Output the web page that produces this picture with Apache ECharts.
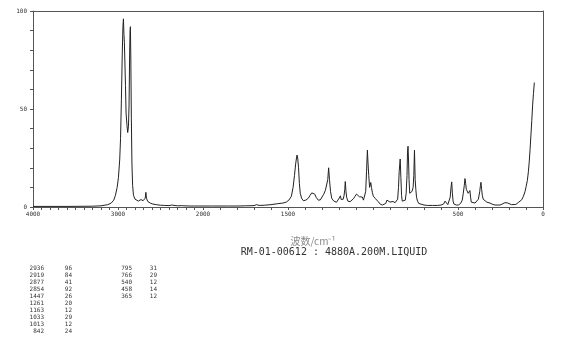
<!DOCTYPE html>
<html><head><meta charset="utf-8">
<script src="https://cdn.jsdelivr.net/npm/echarts@6/dist/echarts.min.js"></script>
<style>html,body{margin:0;padding:0;background:#fff}#c{width:570px;height:346px}</style>
</head><body><div id="c"></div>
<script>
// Spectrum: wavenumber (cm-1) and relative intensity
var wavenumbers = [4000,3600,3300,3200,3120,3080,3050,3030,3010,2995,2980,2970,2960,2950,2942,2936,2930,2925,2919,2912,2905,2895,2886,2877,2870,2863,2858,2854,2849,2843,2836,2828,2818,2800,2780,2760,2745,2730,2720,2705,2690,2680,2672,2665,2650,2620,2590,2550,2500,2450,2400,2370,2350,2300,2250,2240,2225,2150,2100,2050,2000,
1950,1900,1850,1800,1750,1700,1685,1670,1640,1600,1560,1530,1510,1495,1480,1470,1462,1455,1450,1447,1443,1438,1433,1428,1420,1410,1395,1380,1370,1360,1351,1342,1335,1322,1310,1300,1290,1280,1272,1266,1261,1256,1250,1243,1233,1215,1205,1198,1192,1187,1182,1175,1170,1166,1163,1159,1155,1148,1135,1125,1115,1106,1097,1092,1086,1080,1072,1063,1056,1050,1043,1038,1033,1029,1025,1020,1016,1013,1009,1004,998,992,985,980,975,968,958,945,935,925,918,914,908,900,890,882,876,870,862,855,850,846,840,836,832,828,818,810,805,800,797,794,791,788,784,779,776,770,764,760,756,752,748,744,738,731,720,700,680,650,620,600,585,576,572,567,560,552,546,541,537,533,529,524,510,498,485,475,469,463,459,455,451,447,444,440,435,430,426,422,414,400,390,380,372,368,365,361,357,352,347,331,312,295,282,265,253,240,224,210,200,185,175,160,145,135,125,115,106,99,92,86,81,76,71,66,61,56,51];
var intensities = [0.3,0.3,0.4,0.6,1.2,2,3.5,6,10,15,24,35,55,78,92,96,88,84,84,62,48,42,38,41,52,78,90,92,75,45,22,11,6,4,3.2,3,3.5,3.8,4,3.2,3,4.5,7.5,4.5,2.8,2,1.5,1.2,0.9,0.8,0.7,1,0.6,0.6,0.7,1.3,0.6,0.5,0.5,0.5,0.5,
0.5,0.5,0.5,0.5,0.6,0.7,1.2,0.8,0.9,1.2,1.7,2,2.5,3.5,5.5,10,16,22,25,26.5,25,20,12,7,4.5,3.2,3.5,4.5,6,7.2,7.5,6.5,5,3.5,3.6,4.2,6.5,8.5,9.5,14,20,14,8,4.5,3.2,2.4,3,4.6,5.7,3.8,3,4,6,9,13,8,5,3,2.7,3,4.2,5.4,6.6,6.8,6,5.2,4.6,5.1,3.5,3.2,8,18,29,22,16,10,10.5,12.5,10,7.5,5.5,4.5,4.2,5,3.8,2.6,1.5,1,1,1.8,3.5,4.4,3.2,2.5,2,2.8,3,2.2,2,4,10,18,24.5,15,6,3,2.5,3.5,7,16,28,31,24,14,7,6,6.5,8,10,16,29,14,9,5,3,1.8,1.2,1,0.8,0.8,0.8,1,1.5,3,3.6,2,1.2,1.5,5,10,12.8,7,3,1.5,1,1,1.8,3.5,7,11,14.5,12,9,9.5,9.7,7,7.5,8.4,5,2.5,1.8,2,2.5,4,8,11,12.6,9,6,4,3,2.5,2,1.3,1,1,1,1.5,2.2,2.1,1.7,1.2,1,1.3,2.3,3,3.7,5.5,7.8,10.5,13.6,18,23,29.5,36.7,44,52,58,63.5];
var xLabelsHigh = [4000, 3000];
var xLabelsLow = [2000, 1500, 500, 0];
var yLabels = [0, 50, 100];
var peakWn = ['2936','2919','2877','2854','1447','1261','1163','1033','1013','842','795','766','540','458','365'];
var peakInt = ['96','84','41','92','26','20','12','29','12','24','31','29','12','14','12'];

var hi = [], lo = [];
for (var i = 0; i < wavenumbers.length; i++) {
  if (wavenumbers[i] >= 2000) hi.push([wavenumbers[i], intensities[i]]);
  if (wavenumbers[i] <= 2000) lo.push([wavenumbers[i], intensities[i]]);
}
var axC = '#555', txC = '#333';
var lblFont = {fontFamily: 'DejaVu Sans Mono', fontSize: 6, color: txC};
function xAx(grid, min, max, labels) {
  return {type: 'value', gridIndex: grid, min: min, max: max, inverse: true, interval: 100, position: 'bottom',
    axisLine: {show: true, onZero: false, lineStyle: {color: axC, width: 1}},
    axisTick: {show: true, length: 3, lineStyle: {color: axC}},
    axisLabel: Object.assign({margin: 4, formatter: function (v) { return labels.indexOf(v) >= 0 ? String(v) : ''; }}, lblFont),
    splitLine: {show: false}};
}
function topAx(grid, min, max) {
  return {type: 'value', gridIndex: grid, min: min, max: max, inverse: true, position: 'top',
    axisLine: {show: true, onZero: false, lineStyle: {color: axC, width: 1}}, axisTick: {show: false}, axisLabel: {show: false}, splitLine: {show: false}};
}
var graphics = [];
graphics.push({type: 'text', x: 313, y: 241, style: {text: '波数/cm⁻¹', fill: '#8a8a8a', font: '10px "Noto Sans CJK SC"', textAlign: 'center', textVerticalAlign: 'middle'}});
graphics.push({type: 'text', x: 334, y: 252, style: {text: 'RM-01-00612 : 4880A.200M.LIQUID', fill: '#333', font: '10px "DejaVu Sans Mono"', textAlign: 'center', textVerticalAlign: 'middle'}});
for (var k = 0; k < peakWn.length; k++) {
  var col = k < 10 ? 0 : 1, row = k < 10 ? k : k - 10;
  var y = 268 + row * 7.1;
  graphics.push({type: 'text', x: col ? 132 : 44, y: y, style: {text: peakWn[k], fill: '#333', font: '6px "DejaVu Sans Mono"', textAlign: 'right', textVerticalAlign: 'middle'}});
  graphics.push({type: 'text', x: col ? 157 : 72, y: y, style: {text: peakInt[k], fill: '#333', font: '6px "DejaVu Sans Mono"', textAlign: 'right', textVerticalAlign: 'middle'}});
}
var chart = echarts.init(document.getElementById('c'), null, {renderer: 'canvas'});
chart.setOption({
  animation: false,
  backgroundColor: '#fff',
  grid: [{left: 33, top: 11, width: 170, height: 196}, {left: 203, top: 11, width: 340, height: 196}],
  xAxis: [xAx(0, 2000, 4000, xLabelsHigh), xAx(1, 0, 2000, xLabelsLow), topAx(0, 2000, 4000), topAx(1, 0, 2000)],
  yAxis: [
    {type: 'value', gridIndex: 0, min: 0, max: 100, interval: 10, position: 'left',
      axisLine: {show: true, onZero: false, lineStyle: {color: axC, width: 1}},
      axisTick: {show: true, length: 3, lineStyle: {color: axC}},
      axisLabel: Object.assign({margin: 6, formatter: function (v) { return yLabels.indexOf(v) >= 0 ? String(v) : ''; }}, lblFont),
      splitLine: {show: false}},
    {type: 'value', gridIndex: 1, min: 0, max: 100, show: false},
    {type: 'value', gridIndex: 1, min: 0, max: 100, position: 'right',
      axisLine: {show: true, onZero: false, lineStyle: {color: axC, width: 1}}, axisTick: {show: false}, axisLabel: {show: false}, splitLine: {show: false}}
  ],
  series: [
    {type: 'line', xAxisIndex: 0, yAxisIndex: 0, data: hi, showSymbol: false, lineStyle: {color: '#222', width: 1}},
    {type: 'line', xAxisIndex: 1, yAxisIndex: 1, data: lo, showSymbol: false, lineStyle: {color: '#222', width: 1}}
  ],
  graphic: graphics
});
</script></body></html>
